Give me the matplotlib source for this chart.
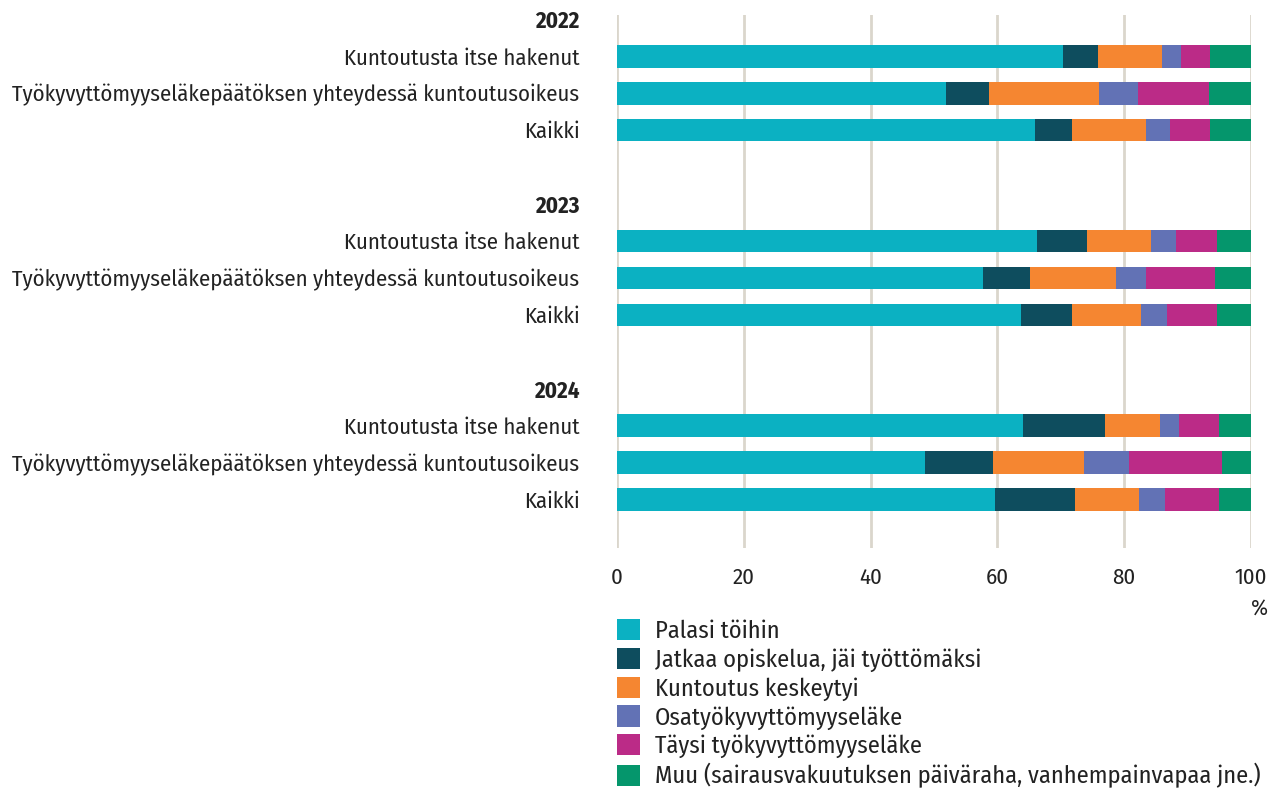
"""Kuntoutuksen päättyminen: tilanne kuntoutuksen jälkeen ryhmittäin 2022-2024."""

import matplotlib

matplotlib.use("Agg")
import matplotlib.pyplot as plt
import numpy as np

plt.rcParams["font.family"] = [
    "Fira Sans Condensed",
    "Roboto Condensed",
    "Open Sans",
    "DejaVu Sans",
]

years = ["2022", "2023", "2024"]
groups = [
    "Kuntoutusta itse hakenut",
    "Työkyvyttömyyseläkepäätöksen yhteydessä kuntoutusoikeus",
    "Kaikki",
]
outcomes = [
    "Palasi töihin",
    "Jatkaa opiskelua, jäi työttömäksi",
    "Kuntoutus keskeytyi",
    "Osatyökyvyttömyyseläke",
    "Täysi työkyvyttömyyseläke",
    "Muu (sairausvakuutuksen päiväraha, vanhempainvapaa jne.)",
]
colors = ["#0BB1C2", "#0E4D5E", "#F58631", "#6272B5", "#BB2B87", "#05966C"]

# rows: 2022 (itse, TK-eläke, kaikki), 2023 (...), 2024 (...)
palasi = [70.4, 51.9, 66.0, 66.3, 57.8, 63.8, 64.0, 48.6, 59.7]
jatkaa = [5.4, 6.7, 5.7, 7.9, 7.3, 7.9, 13.0, 10.7, 12.5]
keskeytyi = [10.1, 17.5, 11.8, 10.0, 13.6, 11.0, 8.7, 14.4, 10.2]
osa = [3.1, 6.0, 3.8, 4.0, 4.7, 4.0, 2.9, 7.1, 4.1]
taysi = [4.5, 11.3, 6.2, 6.5, 10.9, 8.0, 6.4, 14.6, 8.5]
muu = [6.5, 6.6, 6.5, 5.5, 5.9, 5.5, 5.0, 4.6, 5.0]
series = [palasi, jatkaa, keskeytyi, osa, taysi, muu]

FS = 16.4
TXT = "#222222"

fig = plt.figure(figsize=(12.84, 7.94), dpi=100)
ax = fig.add_axes([617 / 1284, 1 - 548 / 794, 634 / 1284, 533 / 794])

# each year block: header slot, three bar slots, one blank slot
bar_pos, tick_pos, tick_labels, bold = [], [], [], []
for i, year in enumerate(years):
    base = i * 5
    tick_pos.append(base)
    tick_labels.append(year)
    bold.append(True)
    for j, g in enumerate(groups):
        bar_pos.append(base + 1 + j)
        tick_pos.append(base + 1 + j)
        tick_labels.append(g)
        bold.append(False)
bar_pos = np.array(bar_pos)

left = np.zeros(len(bar_pos))
for name, vals, c in zip(outcomes, series, colors):
    vals = np.array(vals)
    ax.barh(bar_pos, vals, left=left, height=0.62, color=c, label=name, zorder=3)
    left += vals

ax.set_xlim(0, 100)
ax.set_ylim(14.3, -0.11)
ax.set_xticks(np.arange(0, 101, 20))
ax.grid(axis="x", color="#DAD6CC", linewidth=2, zorder=0)
ax.set_yticks(tick_pos)
ax.set_yticklabels(tick_labels)
for lbl, b in zip(ax.get_yticklabels(), bold):
    if b:
        lbl.set_fontweight("bold")
ax.tick_params(axis="y", length=0, pad=27, labelsize=FS, labelcolor=TXT)
ax.tick_params(axis="x", length=0, pad=14, labelsize=FS, labelcolor=TXT)
for s in ax.spines.values():
    s.set_visible(False)

ax.text(1.0, -0.093, "%", transform=ax.transAxes, ha="left", va="top",
        fontsize=FS, color=TXT)

fig.legend(
    loc="upper left",
    bbox_to_anchor=(617 / 1284, 1 - 619 / 794),
    frameon=False,
    fontsize=17.6,
    borderaxespad=0,
    borderpad=0,
    handlelength=0.95,
    handleheight=0.95,
    handletextpad=0.6,
    labelspacing=0.2,
    labelcolor=TXT,
)

fig.savefig("out.png", dpi=100)
